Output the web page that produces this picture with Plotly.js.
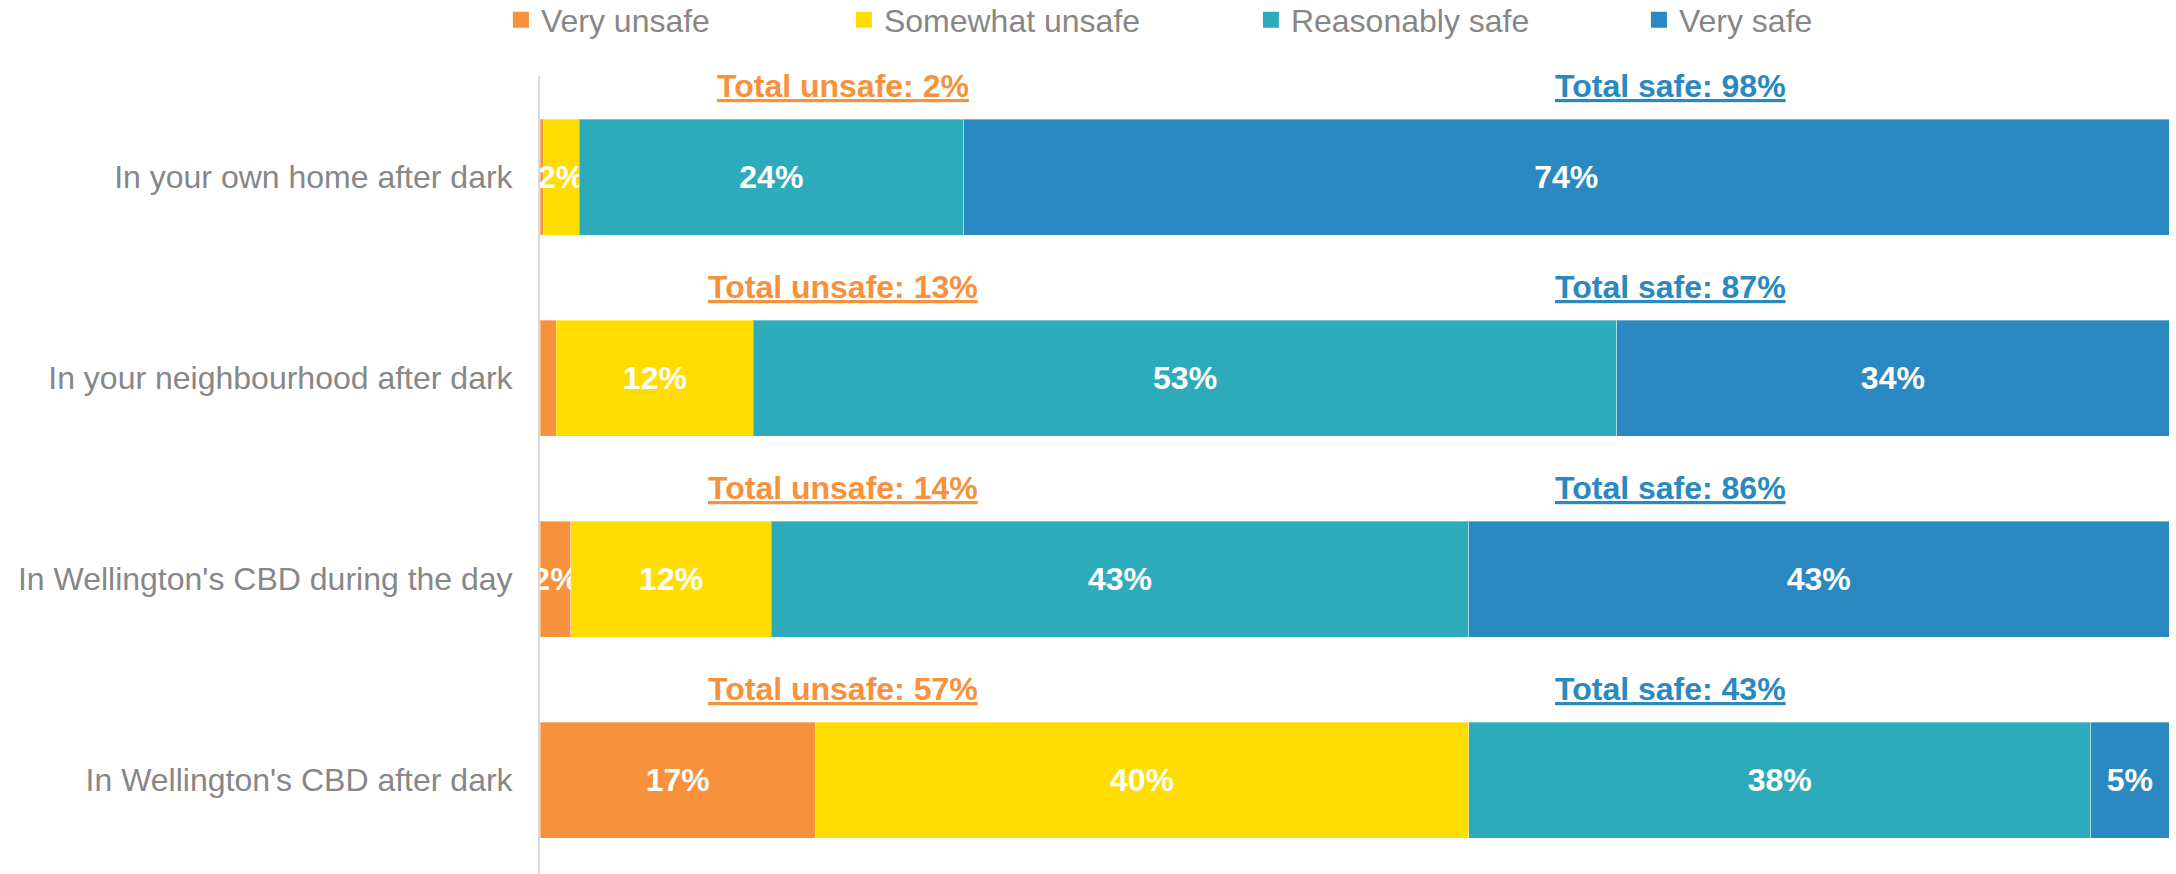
<!DOCTYPE html>
<html>
<head>
<meta charset="utf-8">
<script src="https://cdn.plot.ly/plotly-3.0.1.min.js"></script>
<style>
  html, body { margin: 0; padding: 0; background: #ffffff; }
  #chart { width: 2176px; height: 874px; }
</style>
</head>
<body>
<div id="chart"></div>
<script>
// ---- Data ----
const categories = [
  "In your own home after dark",
  "In your neighbourhood after dark",
  "In Wellington's CBD during the day",
  "In Wellington's CBD after dark"
];
const seriesNames = ["Very unsafe", "Somewhat unsafe", "Reasonably safe", "Very safe"];

const veryUnsafe      = [0.2, 1.0, 1.9, 16.9];
const somewhatUnsafe  = [2.2, 12.1, 12.3, 40.1];
const reasonablySafe  = [23.6, 53.0, 42.8, 38.2];
const verySafe        = [74.0, 33.9, 43.0, 4.8];

const veryUnsafeLabels     = ["", "", "2%", "17%"];
const somewhatUnsafeLabels = ["2%", "12%", "12%", "40%"];
const reasonablySafeLabels = ["24%", "53%", "43%", "38%"];
const verySafeLabels       = ["74%", "34%", "43%", "5%"];

const totalUnsafe = [2, 13, 14, 57];
const totalSafe   = [98, 87, 86, 43];

// ---- Styles ----
const FONT = "Arial, 'Liberation Sans', sans-serif";
const colors = ["#F7913C", "#FFDD00", "#2EABBB", "#2989C0"];
const legendWidths = [298, 362, 343, 200];
const values = [veryUnsafe, somewhatUnsafe, reasonablySafe, verySafe];
const labels = [veryUnsafeLabels, somewhatUnsafeLabels, reasonablySafeLabels, verySafeLabels];

const barTraces = seriesNames.map((name, i) => ({
  type: "bar",
  orientation: "h",
  name: name,
  y: categories,
  x: values[i],
  text: labels[i],
  textposition: "inside",
  insidetextanchor: "middle",
  constraintext: "none",
  cliponaxis: false,
  textangle: 0,
  textfont: { family: FONT, size: 32, color: "#ffffff", weight: "bold" },
  marker: { color: colors[i], line: { color: "rgba(255,255,255,0.35)", width: 1 } },
  showlegend: false,
  legendgroup: name,
  hoverinfo: "skip"
}));

// legend-only entries (square swatches)
const legendTraces = seriesNames.map((name, i) => ({
  type: "scatter",
  mode: "markers",
  name: name,
  x: [null],
  y: [null],
  marker: { symbol: "square", size: 16, color: colors[i] },
  legendgroup: name,
  legendwidth: legendWidths[i],
  hoverinfo: "skip"
}));

const annotations = [];
categories.forEach((c, i) => {
  annotations.push({
    xref: "x", yref: "y", x: 18.6, y: i - 0.453,
    text: "<b><u>Total unsafe: " + totalUnsafe[i] + "%</u></b>",
    showarrow: false, xanchor: "center", yanchor: "middle",
    font: { family: FONT, size: 32, color: colors[0] }
  });
  annotations.push({
    xref: "x", yref: "y", x: 69.4, y: i - 0.453,
    text: "<b><u>Total safe: " + totalSafe[i] + "%</u></b>",
    showarrow: false, xanchor: "center", yanchor: "middle",
    font: { family: FONT, size: 32, color: colors[3] }
  });
});

const layout = {
  width: 2176,
  height: 874,
  margin: { l: 540, r: 7, t: 76, b: 0, pad: 0 },
  paper_bgcolor: "#ffffff",
  plot_bgcolor: "#ffffff",
  barmode: "stack",
  bargap: 0.423,
  showlegend: true,
  legend: {
    orientation: "h",
    xref: "container", yref: "container",
    x: 0.2302, xanchor: "left",
    y: 1 - 20 / 874, yanchor: "middle",
    font: { family: FONT, size: 32, color: "#878787" },
    traceorder: "normal",
    bgcolor: "rgba(0,0,0,0)"
  },
  xaxis: {
    range: [0, 100],
    showgrid: false, zeroline: false, showline: false,
    showticklabels: false, ticks: "", fixedrange: true
  },
  yaxis: {
    type: "category",
    categoryarray: categories,
    categoryorder: "array",
    range: [3.4675, -0.5025],
    autorange: false,
    showgrid: false, zeroline: false,
    showline: true, linecolor: "#D9D9D9", linewidth: 2,
    ticks: "",
    ticklabelstandoff: 19,
    tickfont: { family: FONT, size: 32, color: "#878787" },
    fixedrange: true
  },
  annotations: annotations,
  font: { family: FONT }
};

Plotly.newPlot("chart", barTraces.concat(legendTraces), layout, { displayModeBar: false, staticPlot: true });
</script>
</body>
</html>
